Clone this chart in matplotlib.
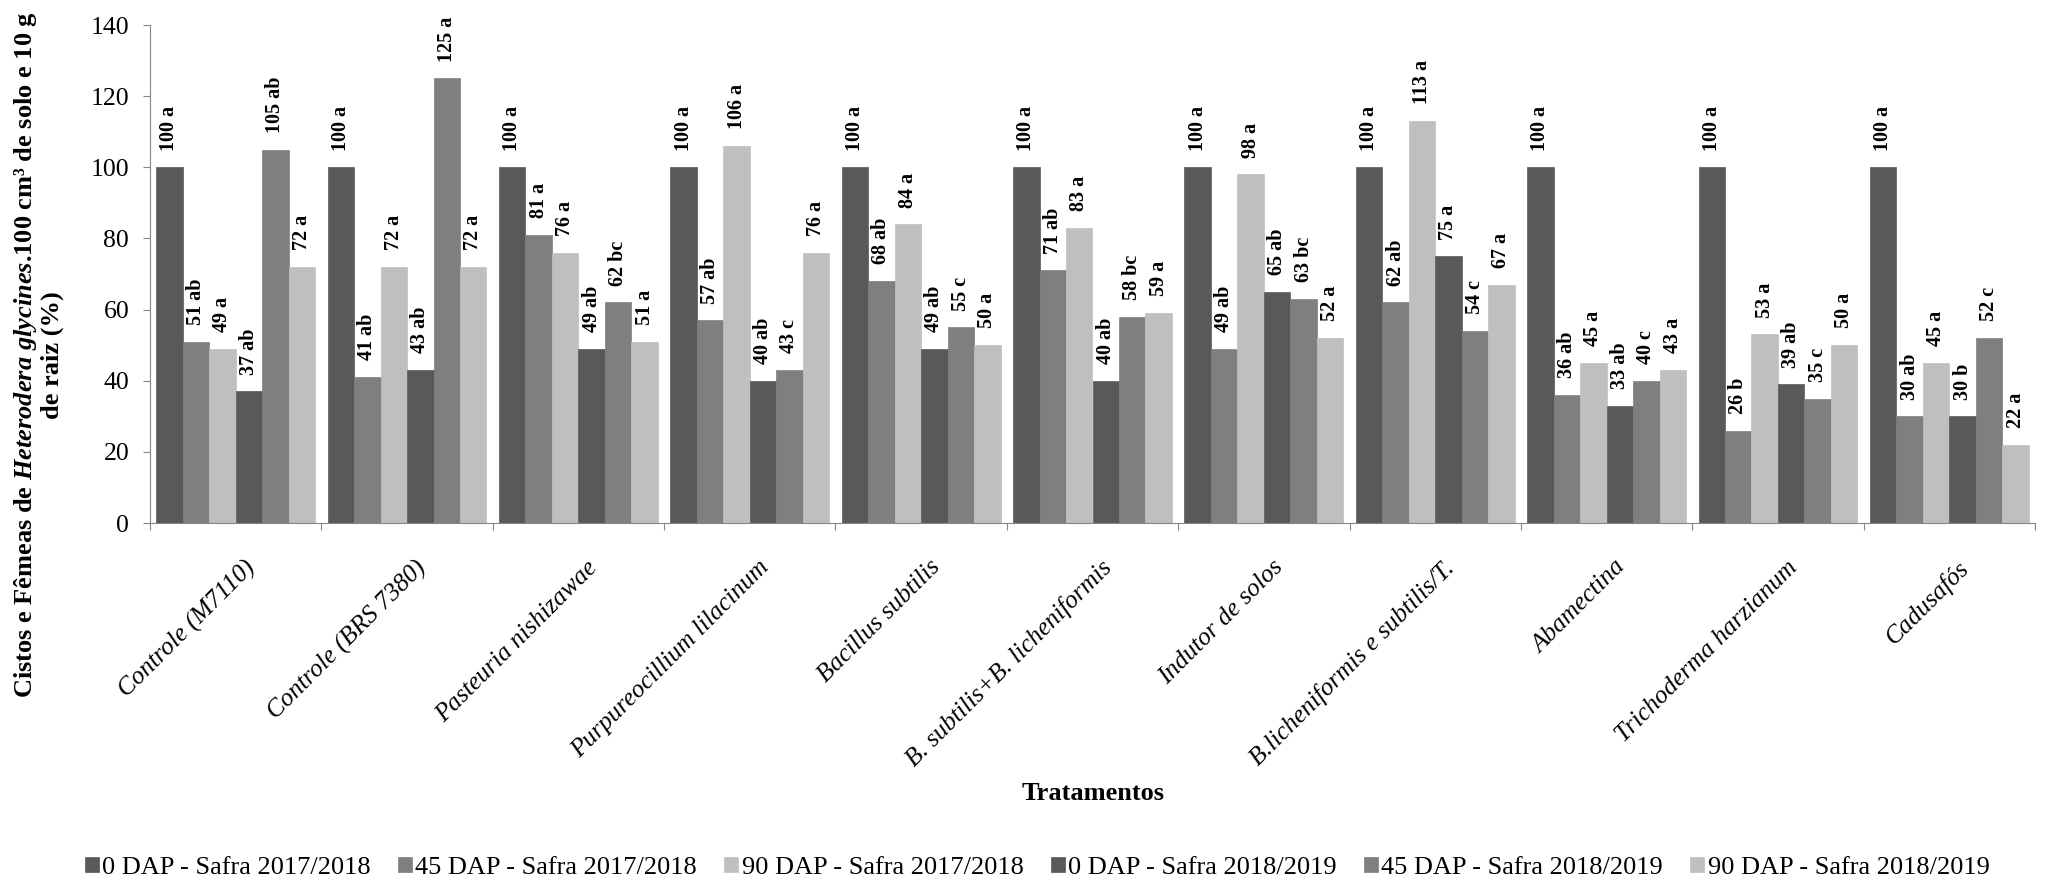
import numpy as np
import matplotlib
matplotlib.use("Agg")
import matplotlib.pyplot as plt
from matplotlib.transforms import ScaledTranslation

plt.rcParams["font.family"] = ["Liberation Serif", "DejaVu Serif"]
plt.rcParams["mathtext.fontset"] = "custom"
plt.rcParams["mathtext.it"] = "Liberation Serif:italic:bold"
plt.rcParams["mathtext.rm"] = "Liberation Serif:bold"

tratamentos = [
    "Controle (M7110)", "Controle (BRS 7380)", "Pasteuria nishizawae",
    "Purpureocillium lilacinum", "Bacillus subtilis", "B. subtilis+B. licheniformis",
    "Indutor de solos", "B.licheniformis e subtilis/T.", "Abamectina",
    "Trichoderma harzianum", "Cadusafós",
]
series = [
    "0 DAP - Safra 2017/2018", "45 DAP - Safra 2017/2018", "90 DAP - Safra 2017/2018",
    "0 DAP - Safra 2018/2019", "45 DAP - Safra 2018/2019", "90 DAP - Safra 2018/2019",
]

# one list per series, values in treatment order
dap0_1718 = [100, 100, 100, 100, 100, 100, 100, 100, 100, 100, 100]
dap45_1718 = [51, 41, 81, 57, 68, 71, 49, 62, 36, 26, 30]
dap90_1718 = [49, 72, 76, 106, 84, 83, 98, 113, 45, 53, 45]
dap0_1819 = [37, 43, 49, 40, 49, 40, 65, 75, 33, 39, 30]
dap45_1819 = [105, 125, 62, 43, 55, 58, 63, 54, 40, 35, 52]
dap90_1819 = [72, 72, 51, 76, 50, 59, 52, 67, 43, 50, 22]

# Tukey letters for each bar
let0_1718 = ["a"] * 11
let45_1718 = ["ab", "ab", "a", "ab", "ab", "ab", "ab", "ab", "ab", "b", "ab"]
let90_1718 = ["a"] * 11
let0_1819 = ["ab", "ab", "ab", "ab", "ab", "ab", "ab", "a", "ab", "ab", "b"]
let45_1819 = ["ab", "a", "bc", "c", "c", "bc", "bc", "c", "c", "c", "c"]
let90_1819 = ["a"] * 11

values = [dap0_1718, dap45_1718, dap90_1718, dap0_1819, dap45_1819, dap90_1819]
letters = [let0_1718, let45_1718, let90_1718, let0_1819, let45_1819, let90_1819]
colors = ["#595959", "#7f7f7f", "#bfbfbf", "#595959", "#7f7f7f", "#bfbfbf"]

fig = plt.figure(figsize=(20.47, 8.85), dpi=100)
ax = fig.add_axes([150 / 2047, 1 - 523 / 885, (2035 - 150) / 2047, (523 - 25) / 885])

n = len(tratamentos)
centers = np.arange(n) + 0.5
w = 0.1545
handles = []
for j in range(6):
    xs = centers + (j - 2.5) * w
    b = ax.bar(xs, values[j], width=w, color=colors[j], edgecolor=colors[j],
               linewidth=0.5, label=series[j])
    handles.append(b)
    for x, v, l in zip(xs, values[j], letters[j]):
        ax.annotate(f"{v} {l}", (x, v), xytext=(0, 12), textcoords="offset points",
                    rotation=90, ha="center", va="bottom", fontsize=14.5,
                    fontweight="bold")

ax.set_xlim(0, n)
ax.set_ylim(0, 140)
ax.set_yticks(np.arange(0, 141, 20))
ax.tick_params(axis="y", labelsize=18.5, length=5, color="#868686", pad=10)

ax.set_xticks(np.arange(n + 1))
ax.set_xticklabels([])
ax.set_xticks(centers, minor=True)
ax.set_xticklabels(tratamentos, minor=True, rotation=45, ha="right",
                   rotation_mode="anchor", fontsize=18.3, fontstyle="italic")
ax.tick_params(axis="x", which="major", length=5, color="#868686")
ax.tick_params(axis="x", which="minor", length=0, pad=24)
for lab in ax.get_xticklabels(minor=True):
    lab.set_transform(lab.get_transform() + ScaledTranslation(0.08, 0, fig.dpi_scale_trans))

for s in ["top", "right"]:
    ax.spines[s].set_visible(False)
for s in ["left", "bottom"]:
    ax.spines[s].set_color("#868686")

fig.text(38 / 2047, 1 - 355 / 885,
         "Cistos e Fêmeas de $Heterodera\\ glycines$.100 cm³ de solo e 10 g\nde raiz (%)",
         rotation=90, ha="center", va="center", multialignment="center",
         fontsize=19, fontweight="bold", linespacing=1.05)
fig.text(1093 / 2047, 1 - 793 / 885, "Tratamentos", ha="center", va="center",
         fontsize=19, fontweight="bold")

fig.legend(handles=handles, loc="center", bbox_to_anchor=(1037 / 2047, 1 - 868 / 885),
           ncol=6, frameon=False, fontsize=19, handlelength=0.54, handleheight=0.47,
           handletextpad=0.12, columnspacing=1.03)

fig.savefig("out.png", dpi=100, facecolor="white")
